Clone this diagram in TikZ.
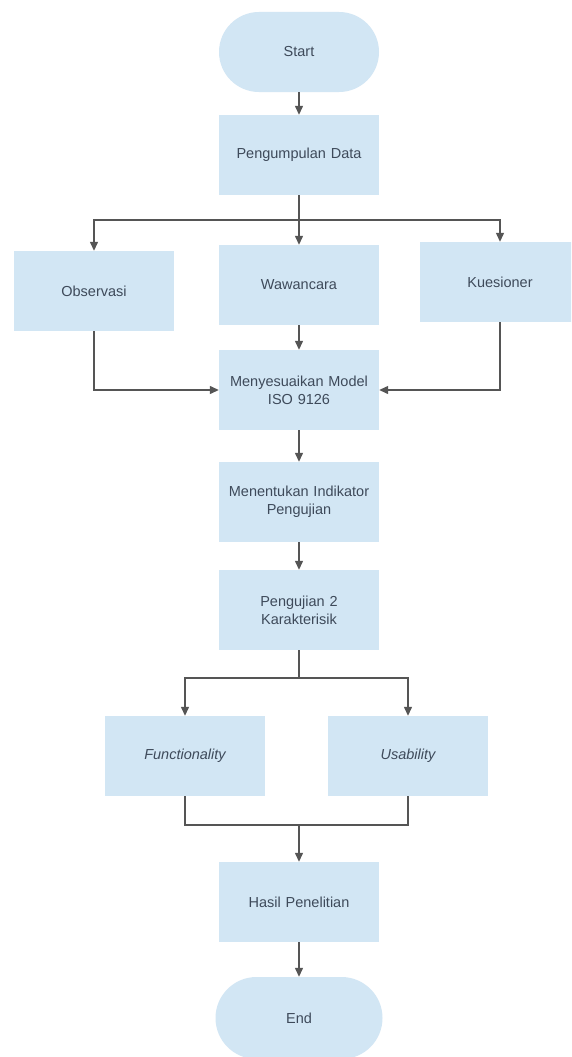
\documentclass[tikz,border=0pt]{standalone}
\usepackage{fontspec}
\setmainfont{Liberation Sans}
\usetikzlibrary{arrows.meta}
\definecolor{boxfill}{HTML}{D2E6F4}
\definecolor{txt}{HTML}{3E4A5A}
\definecolor{ln}{HTML}{555555}
\tikzset{
  procbox/.style={fill=boxfill, draw=none, minimum width=160pt, minimum height=80pt, inner sep=2pt,
    text=txt, font=\fontsize{14.5}{18}\selectfont, align=center, text width=150pt},
  pill/.style={procbox, rounded corners=40pt},
  conn/.style={draw=ln, line width=1.3pt},
  arr/.style={conn, -{Triangle[width=8pt,length=9pt]}}
}
\begin{document}
\begin{tikzpicture}[x=1pt,y=-1pt]
\useasboundingbox (0,0) rectangle (571,1057);
\clip (0,0) rectangle (571,1057);
\fill[white] (0,0) rectangle (571,1057);

\node[pill] (start) at (299,52) {Start};
\node[procbox] (peng) at (299,155) {Pengumpulan Data};
\node[procbox] (obs) at (94,291) {Observasi};
\node[procbox] (waw) at (299,285) {Wawancara};
\node[procbox] (kue) at (500,282) {Kuesioner};
\node[procbox] (meny) at (299,390) {Menyesuaikan Model\\ISO 9126};
\node[procbox] (ment) at (299,502) {Menentukan Indikator\\Pengujian};
\node[procbox] (uji) at (299,610) {Pengujian 2\\Karakterisik};
\node[procbox] (func) at (185,756) {\itshape Functionality};
\node[procbox] (usab) at (408,756) {\itshape Usability};
\node[procbox] (hasil) at (299,902) {Hasil Penelitian};
\node[pill, minimum width=167pt, minimum height=82pt, rounded corners=41pt] (end) at (299,1018) {End};

\coordinate (b1) at (299,220);
\coordinate (b2) at (299,678);
\coordinate (m) at (299,825);

\draw[arr] (start) -- (peng);
\draw[conn] (peng) -- (b1);
\draw[arr] (b1) -| (obs);
\draw[arr] (b1) -- (waw);
\draw[arr] (b1) -| (kue);
\draw[arr] (obs) |- (meny);
\draw[arr] (waw) -- (meny);
\draw[arr] (kue) |- (meny);
\draw[arr] (meny) -- (ment);
\draw[arr] (ment) -- (uji);
\draw[conn] (uji) -- (b2);
\draw[arr] (b2) -| (func);
\draw[arr] (b2) -| (usab);
\draw[conn] (func) |- (m);
\draw[conn] (usab) |- (m);
\draw[arr] (m) -- (hasil);
\draw[arr] (hasil) -- (end);
\end{tikzpicture}
\end{document}
